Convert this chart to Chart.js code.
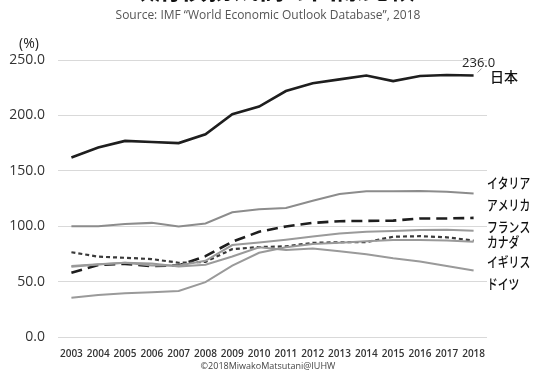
<!DOCTYPE html>
<html>
<head>
<meta charset="utf-8">
<script src="https://cdn.jsdelivr.net/npm/chart.js@4"></script>
<style>
  html, body { margin: 0; padding: 0; background: #fff; }
  #wrap { width: 535px; height: 380px; position: relative; }
</style>
</head>
<body>
<div id="wrap"><canvas id="debtChart" width="535" height="380"></canvas></div>
<script>
const years = ['2003','2004','2005','2006','2007','2008','2009','2010','2011','2012','2013','2014','2015','2016','2017','2018'];

const japan   = [162, 171, 177, 176, 175, 183, 201, 208, 222, 229, 232.5, 236, 231, 235.5, 236.5, 236.0];
const italy   = [100, 100, 102, 103, 99.8, 102.4, 112.5, 115.4, 116.5, 123, 129, 131.5, 131.5, 131.8, 131.2, 129.5];
const america = [58, 65, 66, 64, 64.5, 73, 86, 95, 99.8, 103, 104.5, 104.8, 105, 107, 107, 107.5];
const france  = [64, 65.7, 67, 64.5, 64.5, 68.8, 83, 85.3, 87.8, 90.6, 93.4, 94.9, 95.6, 96.5, 96.8, 96];
const canada  = [76.5, 72.5, 71.5, 70.3, 67, 67.8, 79.3, 81.2, 81.8, 85, 85.5, 85.6, 90.5, 91, 90, 87];
const britain = [35.5, 38, 39.5, 40.5, 41.5, 49.5, 64.5, 76, 81, 84, 85, 86.5, 87.5, 87.5, 87, 86];
const germany = [63.5, 65.5, 67, 66.4, 63.7, 65.2, 72.6, 80.9, 78.6, 79.8, 77.4, 74.6, 71, 68.2, 64.1, 60];

const yTicks = [0, 50, 100, 150, 200, 250];

// right-hand country labels, positioned in data units
const seriesNames = ['日本', 'イタリア', 'アメリカ', 'フランス', 'カナダ', 'イギリス', 'ドイツ'];
const nameLevels  = [235, 139.6, 119.8, 100, 85.6, 67.6, 47.7];
const lastLabel = '236.0';

const jpFont = '"Noto Sans CJK JP", "Noto Sans", sans-serif';
const latFont = '"Open Sans", "DejaVu Sans", sans-serif';

const annotations = {
    id: 'annotations',
    afterDraw(chart) {
        const ctx = chart.ctx;
        const y = chart.scales.y;
        const x = chart.scales.x;
        const right = chart.chartArea.right;
        ctx.save();

        // title (cut off at top edge in the original)
        ctx.fillStyle = '#111';
        ctx.font = 'bold 26px ' + jpFont;
        ctx.textAlign = 'center';
        ctx.textBaseline = 'alphabetic';
        ctx.fillText('政府債務残高の国際比較', 272, -1);

        ctx.fillStyle = '#555';
        ctx.font = '12px ' + latFont;
        ctx.textBaseline = 'middle';
        ctx.fillText('Source: IMF \u201CWorld Economic Outlook Database\u201D, 2018', 268, 16);

        ctx.fillStyle = '#222';
        ctx.font = '14px ' + latFont;
        ctx.fillText('(%)', 29, 44);

        ctx.fillStyle = '#444';
        ctx.font = '9px ' + latFont;
        ctx.fillText('\u00A92018MiwakoMatsutani@IUHW', 268, 366);

        // series names
        ctx.fillStyle = '#111';
        ctx.textAlign = 'left';
        ctx.font = '500 14px ' + jpFont;
        seriesNames.forEach((name, i) => {
            const w = name === '日本' ? undefined : name.length * 10.8;
            const py = y.getPixelForValue(nameLevels[i]);
            if (w) ctx.fillText(name, right, py, w);
            else ctx.fillText(name, right + 3, py);
        });

        // last value label for Japan
        const px = x.getPixelForValue(years.length - 1);
        const py = y.getPixelForValue(japan[japan.length - 1]);
        ctx.font = '13px ' + latFont;
        ctx.fillStyle = '#222';
        ctx.textAlign = 'center';
        ctx.fillText(lastLabel, px + 5, py - 12);
        ctx.strokeStyle = '#999';
        ctx.lineWidth = 1;
        ctx.beginPath();
        ctx.moveTo(px + 4, py - 3);
        ctx.lineTo(px + 8, py - 7);
        ctx.stroke();

        ctx.restore();
    }
};

function line(data, color, width, dash) {
    return {
        data: data,
        borderColor: color,
        borderWidth: width,
        borderDash: dash || [],
        pointRadius: 0,
        tension: 0,
        fill: false
    };
}

new Chart(document.getElementById('debtChart').getContext('2d'), {
    type: 'line',
    data: {
        labels: years,
        datasets: [
            line(italy, '#8c8c8c', 2),
            line(france, '#9a9a9a', 2),
            line(britain, '#9a9a9a', 2),
            line(germany, '#9a9a9a', 2),
            line(canada, '#3a3a3a', 2.2, [4, 3]),
            line(america, '#1e1e1e', 2.6, [11, 6]),
            line(japan, '#1e1e1e', 2.6)
        ]
    },
    options: {
        responsive: false,
        animation: false,
        devicePixelRatio: 1,
        layout: { padding: { top: 60, right: 48, bottom: 0, left: 0 } },
        plugins: {
            legend: { display: false },
            tooltip: { enabled: false }
        },
        scales: {
            x: {
                offset: true,
                grid: { display: false },
                border: { display: false },
                ticks: {
                    color: '#333',
                    font: { family: latFont, size: 10, weight: '600' },
                    padding: 3,
                    maxRotation: 0,
                    autoSkip: false
                },
                afterFit(scale) { scale.height = 43; }
            },
            y: {
                min: 0,
                max: 250,
                afterBuildTicks(scale) { scale.ticks = yTicks.map(v => ({ value: v })); },
                grid: { color: '#d9d9d9', lineWidth: 1, drawTicks: false },
                border: { display: false },
                ticks: {
                    color: '#333',
                    font: { family: latFont, size: 14 },
                    padding: 13,
                    callback: v => Number(v).toFixed(1)
                },
                afterFit(scale) { scale.width = 58; }
            }
        }
    },
    plugins: [annotations]
});
</script>
</body>
</html>
